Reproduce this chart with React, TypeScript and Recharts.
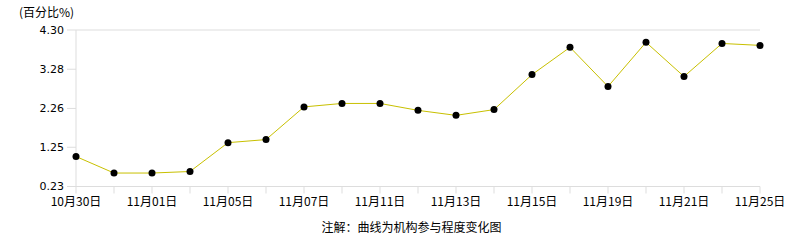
import React from 'react';
import { LineChart, Line, XAxis, YAxis, CartesianGrid } from 'recharts';

const categories = [
  '10月30日', '10月31日', '11月01日', '11月04日', '11月05日', '11月06日', '11月07日',
  '11月08日', '11月11日', '11月12日', '11月13日', '11月14日', '11月15日', '11月18日',
  '11月19日', '11月20日', '11月21日', '11月22日', '11月25日',
];
const values = [
  1.01, 0.58, 0.58, 0.62, 1.37, 1.45, 2.30, 2.39, 2.39, 2.21, 2.08, 2.23, 3.14, 3.85,
  2.83, 3.98, 3.09, 3.95, 3.90,
];
const yTicks = [0.23, 1.25, 2.26, 3.28, 4.3];
const yUnit = '(百分比%)';
const footnote = '注解：曲线为机构参与程度变化图';

const data = categories.map((c, i) => ({ date: c, value: values[i] }));

const FONT = '"Noto Sans CJK SC", "DejaVu Sans", sans-serif';

const XTick = (props: any) => {
  const { x, y, payload, index } = props;
  if (index % 2 !== 0) return <g />;
  return (
    <text x={x} y={y} dy="0.71em" textAnchor="middle" fontSize={12} fill="#000" fontFamily={FONT}>
      {payload.value}
    </text>
  );
};

export default function App() {
  return (
    <div style={{ position: 'absolute', left: 0, top: 0, width: 786, height: 240, background: '#fff' }}>
      <div style={{ position: 'absolute', left: 19, top: 4, fontSize: 12, fontFamily: FONT, color: '#000', lineHeight: '16px' }}>
        {yUnit}
      </div>
      <LineChart
        width={786}
        height={240}
        data={data}
        margin={{ top: 30, right: 26, bottom: 23.5, left: 0 }}
      >
        <CartesianGrid vertical={false} stroke="#dddddd" strokeDasharray="" />
        <XAxis
          dataKey="date"
          interval={0}
          tick={<XTick />}
          tickSize={7}
          tickMargin={4}
          height={30}
          axisLine={{ stroke: '#dddddd' }}
          tickLine={{ stroke: '#dddddd' }}
          padding={{ left: 0, right: 0 }}
        />
        <YAxis
          yAxisId="l"
          domain={[0.23, 4.3]}
          ticks={yTicks}
          tickFormatter={(v: number) => v.toFixed(2)}
          width={76}
          tickSize={9}
          tickMargin={3}
          axisLine={{ stroke: '#dddddd' }}
          tickLine={{ stroke: '#dddddd' }}
          tick={{ fontSize: 11, fill: '#000', fontFamily: '"DejaVu Sans", sans-serif' }}
          interval={0}
        />
        <YAxis
          yAxisId="r"
          orientation="right"
          domain={[0.23, 4.3]}
          ticks={yTicks}
          width={0}
          tick={false}
          tickLine={false}
          axisLine={{ stroke: '#dddddd' }}
        />
        <Line
          yAxisId="l"
          type="linear"
          dataKey="value"
          stroke="#c8c000"
          strokeWidth={1}
          dot={{ r: 3.5, fill: '#000', stroke: '#000', strokeWidth: 0 }}
          activeDot={false}
          isAnimationActive={false}
        />
      </LineChart>
      <div style={{ position: 'absolute', left: 0, width: 823, top: 219, textAlign: 'center', fontSize: 12, fontFamily: FONT, color: '#000', lineHeight: '16px' }}>
        {footnote}
      </div>
    </div>
  );
}
